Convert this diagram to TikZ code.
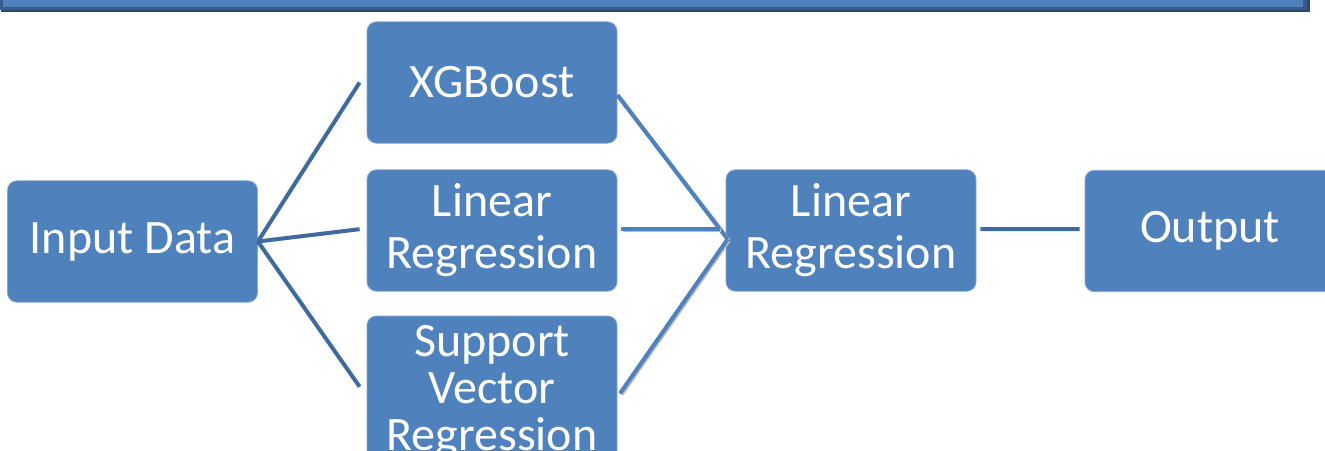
\documentclass[tikz,border=0pt]{standalone}
\usepackage{fontspec}
\setmainfont{Carlito}
\usetikzlibrary{calc}
\definecolor{boxfill}{HTML}{4F81BD}
\definecolor{boxedge}{HTML}{385D8A}
\definecolor{linkdark}{HTML}{3E6A9E}
\definecolor{shade}{HTML}{8C8C8C}

\begin{document}
\begin{tikzpicture}[x=0.75pt,y=-0.75pt,
  box/.style={draw=boxfill!70!white,line width=0.6pt,fill=boxfill,rounded corners=7pt,text=white,align=center,
    inner sep=0pt,minimum width=187.5pt,minimum height=91pt,font=\fontsize{36}{39}\selectfont},
  link/.style={draw=linkdark,line width=3pt},
  linkshade/.style={draw=boxfill,line width=3pt,preaction={draw=shade!60,line width=3pt,transform canvas={shift={(0.9pt,-0.9pt)}}}}]
\clip (0,0) rectangle (1325,450);
% banner across the top
\draw[boxedge!80!black,line width=2.5pt] (3,-20) rectangle (1308,10.5);
\draw[boxedge,fill=boxfill,line width=2.5pt] (1.5,-20) rectangle (1305,8.5);
\node[box] (in) at (132.5,241.5) {Input Data};
\node[box] (xgb) at (492,82.5) {XGBoost};
\node[box] (lr1) at (492,230.5) {Linear\\Regression};
\node[box,minimum height=114pt,font=\fontsize{36}{35}\selectfont] (svr) at (492,392) {Support\\Vector\\Regression};
\node[box] (lr2) at (851,230.5) {Linear\\Regression};
\node[box] (out) at (1210,231) {Output};
% first layer
\draw[link] (in.east) -- ([xshift=-5.25pt]xgb.west);
\draw[link] (in.east) -- ([xshift=-5.25pt,yshift=1pt]lr1.west);
\draw[link] (in.east) -- ([xshift=-5.25pt,yshift=4pt]svr.west);
% second layer
\draw[linkshade] ([yshift=-9.4pt]xgb.east) -- ([xshift=1.5pt,yshift=-6.5pt]lr2.west);
\draw[linkshade] ([xshift=3pt,yshift=1pt]lr1.east) -- ([xshift=-4.5pt,yshift=1pt]lr2.west);
\draw[linkshade] ([xshift=2pt,yshift=-1pt]svr.east) -- ([xshift=1.5pt,yshift=-6.5pt]lr2.west);
\draw[link] ([xshift=3pt,yshift=1pt]lr2.east) -- ([xshift=-3.75pt,yshift=1.5pt]out.west);
\end{tikzpicture}
\end{document}
